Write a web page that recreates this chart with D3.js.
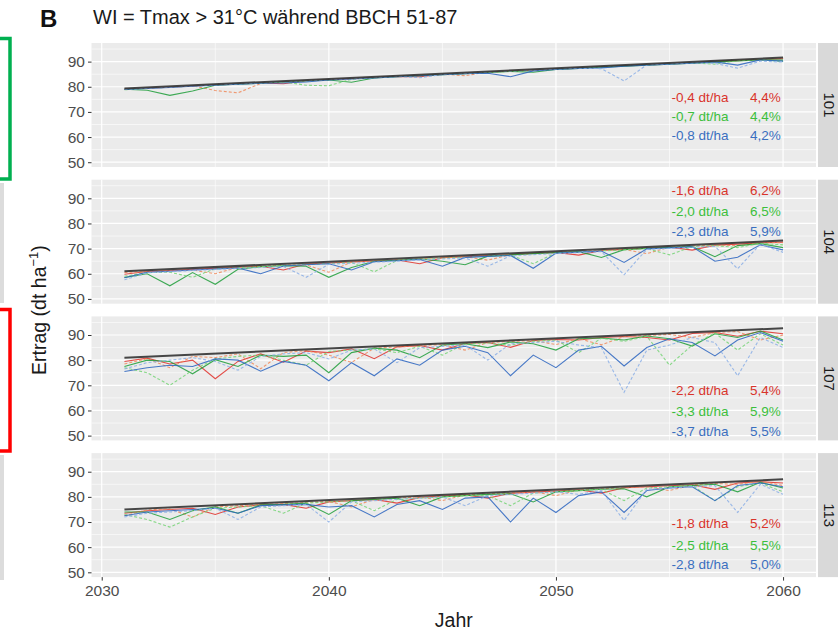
<!DOCTYPE html>
<html>
<head>
<meta charset="utf-8">
<script src="https://cdn.jsdelivr.net/npm/d3@7"></script>
<style>
  body { margin: 0; background: #fff; }
  text { font-family: "Liberation Sans", Arial, sans-serif; }
</style>
</head>
<body>
<div id="plot"></div>
<script>
// ---- data ----
const years = [2031,2032,2033,2034,2035,2036,2037,2038,2039,2040,2041,2042,2043,2044,2045,
               2046,2047,2048,2049,2050,2051,2052,2053,2054,2055,2056,2057,2058,2059,2060];
const facets = ["101", "104", "107", "113"];
const xTicks = [2030, 2040, 2050, 2060];
const yTicks = [50, 60, 70, 80, 90];

// potential yield (black line), first and last year
const trendYears = [2031, 2060];
const trendStart = [79.3, 61.0, 81.0, 75.0];
const trendEnd = [91.6, 73.2, 92.7, 87.0];

// facet 101
const r101  = [79.0,79.4,79.8,80.3,80.7,81.1,81.5,81.2,82.4,82.8,83.2,83.6,84.1,84.0,84.9,85.3,85.8,86.2,86.6,87.0,87.4,87.9,88.3,88.7,89.1,89.5,90.0,90.4,90.8,91.2];
const rd101 = [79.1,79.5,79.9,80.4,78.5,77.6,81.3,82.0,82.5,82.9,83.3,83.7,84.2,84.6,85.0,84.4,85.9,86.3,86.7,87.1,87.5,88.0,88.4,88.8,89.2,89.6,90.1,90.5,90.9,91.3];
const g101  = [79.0,78.6,76.6,78.3,80.6,81.0,81.4,81.9,82.3,82.7,81.8,83.5,84.0,84.4,84.8,85.2,85.7,86.1,85.8,86.9,87.3,87.8,88.2,88.6,89.0,89.4,89.9,90.3,90.7,90.6];
const gd101 = [78.8,79.4,79.8,80.3,80.7,81.1,81.5,82.0,80.6,80.4,83.0,83.6,84.1,84.5,84.9,85.3,85.5,86.2,86.6,87.0,87.4,87.9,88.3,88.7,89.1,89.5,89.0,90.4,90.8,90.0];
const b101  = [78.9,79.3,79.7,80.2,80.6,81.0,81.4,81.5,81.9,82.7,83.1,83.5,84.0,84.4,84.8,85.2,85.4,84.0,86.3,86.9,87.3,87.5,88.2,88.6,89.0,89.4,89.9,88.6,90.7,90.2];
const bd101 = [79.0,79.4,79.8,80.3,80.7,81.1,81.5,82.0,82.4,82.8,83.2,83.6,84.1,83.6,84.9,85.3,85.8,86.2,86.6,87.0,87.4,87.2,82.3,88.7,89.1,89.5,89.3,87.4,90.2,89.8];

// facet 104
const r104  = [59.8,60.9,61.3,61.8,62.2,62.6,63.0,61.5,63.9,64.3,64.7,65.1,65.5,64.0,66.4,66.8,67.2,67.6,68.1,68.5,67.4,69.3,69.7,70.2,70.6,69.4,71.4,71.8,72.3,72.6];
const rd104 = [60.5,60.9,61.3,61.5,60.0,62.6,63.0,63.4,63.5,60.6,64.7,65.1,65.5,66.0,66.4,66.8,65.4,67.6,68.1,68.5,68.9,69.3,69.7,68.0,70.6,71.0,71.4,71.2,72.3,72.4];
const g104  = [58.5,60.0,55.2,60.5,55.8,61.8,62.8,63.2,63.0,58.6,62.5,65.0,65.4,65.9,65.0,63.6,67.0,67.5,68.0,68.4,68.8,66.5,69.6,70.1,70.5,70.8,66.8,71.2,72.0,70.4];
const gd104 = [59.0,60.5,60.6,58.6,62.0,62.4,62.8,63.2,63.7,64.1,64.5,60.8,65.3,65.8,66.2,66.6,67.0,67.4,64.0,68.3,68.7,69.1,69.5,70.0,67.5,70.8,71.2,70.4,72.1,71.5];
const b104  = [58.4,60.6,61.0,61.5,61.9,62.3,60.0,63.1,63.6,64.0,61.5,64.8,65.2,65.7,63.0,66.5,66.9,67.3,62.2,68.2,68.6,69.0,64.5,69.9,70.3,70.7,65.0,66.6,71.5,69.5];
const bd104 = [57.6,60.4,60.8,61.3,61.7,62.1,62.5,62.9,58.6,63.8,64.2,64.6,65.0,65.5,65.9,66.3,63.0,67.1,67.6,68.0,68.4,68.8,59.6,69.7,70.1,70.5,70.9,62.0,71.8,68.5];

// facet 107
const r107  = [79.5,80.8,78.5,80.0,72.6,79.5,82.5,79.2,83.6,83.0,84.5,80.6,85.3,85.8,84.0,86.6,87.0,85.1,87.8,88.2,88.0,89.0,89.4,89.0,88.0,90.6,91.0,89.5,91.5,90.5];
const rd107 = [78.5,80.6,77.0,81.5,81.0,82.5,76.6,83.0,83.8,82.0,79.1,84.8,85.2,85.8,86.2,84.0,87.0,87.4,87.8,86.2,88.6,86.1,89.4,89.8,90.2,89.0,91.0,91.4,88.0,90.0];
const g107  = [77.5,80.0,79.5,74.6,80.2,77.5,82.0,81.5,82.0,75.0,83.0,84.8,84.0,81.0,86.0,86.5,85.0,87.2,86.5,84.0,88.5,88.8,88.0,89.6,88.5,85.6,90.5,89.0,91.6,88.0];
const gd107 = [77.0,75.0,70.0,76.0,80.5,81.5,82.0,80.0,78.0,83.5,84.0,84.5,83.0,85.5,82.0,86.5,86.8,86.0,87.5,88.0,83.0,88.7,87.5,89.5,78.0,86.0,90.8,84.0,90.5,86.0];
const b107  = [75.5,77.0,78.0,77.5,80.5,80.0,75.6,79.5,78.0,71.8,79.0,73.8,80.5,78.0,84.0,85.5,83.0,73.8,82.0,77.0,84.0,85.5,77.7,85.0,88.5,87.0,81.7,88.0,91.0,87.5];
const bd107 = [76.5,79.0,80.0,81.0,79.5,76.0,81.5,82.5,83.0,80.5,84.0,84.5,79.0,85.0,85.5,86.0,80.0,86.5,87.0,87.5,86.0,85.0,67.2,84.0,86.0,89.0,87.0,73.8,89.0,85.0];

// facet 113
const r113  = [73.5,74.5,75.0,75.5,73.0,76.0,76.8,77.0,75.5,78.0,78.5,79.0,77.5,79.8,80.3,80.8,79.5,81.4,81.9,82.3,82.8,81.5,83.6,84.0,84.4,84.8,83.0,85.5,86.0,85.5];
const rd113 = [72.5,74.8,75.2,72.0,76.0,76.5,77.0,77.3,77.8,78.2,76.0,79.0,79.5,80.0,78.5,80.8,81.2,81.6,82.0,80.5,82.8,83.2,83.6,84.0,82.5,84.8,85.3,85.0,86.2,84.5];
const g113  = [74.0,74.0,71.0,74.5,76.0,73.5,76.8,77.0,77.5,73.0,78.5,79.0,79.5,76.5,80.0,80.5,81.0,81.2,78.0,82.0,82.5,83.0,83.2,80.0,84.0,84.5,85.0,82.0,85.8,83.5];
const gd113 = [73.0,71.0,68.0,72.0,75.5,76.0,76.5,73.5,77.5,78.0,78.5,74.5,79.0,79.5,80.0,80.5,80.5,76.5,81.5,82.0,82.5,83.0,78.5,83.5,84.0,84.5,78.5,84.0,85.5,82.0];
const b113  = [72.5,74.0,74.5,75.0,75.5,73.5,76.5,76.8,77.0,76.0,76.5,72.0,77.0,78.5,75.0,79.5,80.0,70.0,79.5,73.8,80.5,82.0,73.8,82.5,83.5,84.0,78.5,84.5,85.5,84.0];
const bd113 = [72.0,73.5,74.0,74.5,75.5,71.0,76.0,76.5,77.0,70.0,78.0,78.5,79.0,79.5,80.0,76.5,80.5,81.0,81.5,82.0,81.0,82.5,70.6,83.0,83.5,84.0,84.5,73.8,85.0,81.0];

// yield losses printed in each facet (red, green, blue rows)
const dt101 = ["-0,4 dt/ha", "-0,7 dt/ha", "-0,8 dt/ha"];
const pc101 = ["4,4%", "4,4%", "4,2%"];
const dt104 = ["-1,6 dt/ha", "-2,0 dt/ha", "-2,3 dt/ha"];
const pc104 = ["6,2%", "6,5%", "5,9%"];
const dt107 = ["-2,2 dt/ha", "-3,3 dt/ha", "-3,7 dt/ha"];
const pc107 = ["5,4%", "5,9%", "5,5%"];
const dt113 = ["-1,8 dt/ha", "-2,5 dt/ha", "-2,8 dt/ha"];
const pc113 = ["5,2%", "5,5%", "5,0%"];

// ---- tables built from the arrays ----
const seriesStyle = [
    {color: "#e0302a", dash: null},
    {color: "#f08a5a", dash: "3,2"},
    {color: "#1f9e3a", dash: null},
    {color: "#74d474", dash: "3,2"},
    {color: "#2a64c0", dash: null},
    {color: "#8aaee6", dash: "3,2"}
];
const facetSeries = [
    [r101, rd101, g101, gd101, b101, bd101],
    [r104, rd104, g104, gd104, b104, bd104],
    [r107, rd107, g107, gd107, b107, bd107],
    [r113, rd113, g113, gd113, b113, bd113]
];
const facetDt = [dt101, dt104, dt107, dt113];
const facetPc = [pc101, pc104, pc107, pc113];
const labelColors = ["#d9342b", "#3cbf3c", "#3a6fc0"];

// label rows (in y units) per facet
const labelRows = [[76, 68.4, 60.9], [93.3, 85, 77], [67.9, 59.5, 51.6], [69.4, 60.7, 53.1]];

// ---- layout ----
const W = 838, H = 630;
const panelLeft = 91.5, panelRight = 816;
const panelTop0 = 43, panelH = 124, panelStep = 136.7;

const svg = d3.select("#plot")
    .append("svg")
    .attr("width", W)
    .attr("height", H);

// bits of the neighbouring figure at the left edge
svg.append("rect").attr("x", 0).attr("y", 183).attr("width", 4).attr("height", 120).attr("fill", "#dcdcdc");
svg.append("rect").attr("x", 0).attr("y", 455).attr("width", 4).attr("height", 125).attr("fill", "#dcdcdc");
svg.append("path").attr("d", "M-2,38.5 H10 V179 H-2").attr("fill", "none").attr("stroke", "#00b050").attr("stroke-width", 3.5);
svg.append("path").attr("d", "M-2,309.5 H10 V451 H-2").attr("fill", "none").attr("stroke", "#ff0000").attr("stroke-width", 3.5);

const x = d3.scaleLinear()
    .domain([2029.55, 2061.45])
    .range([panelLeft, panelRight]);

const y = d3.scaleLinear()
    .domain([48.1, 97.4])
    .range([panelH, 0]);

const line = d3.line()
    .x((d, i) => x(years[i]))
    .y(d => y(d));

facets.forEach((facet, fi) => {
    const g = svg.append("g")
        .attr("transform", `translate(0,${panelTop0 + fi * panelStep})`);

    // panel background
    g.append("rect")
        .attr("x", panelLeft)
        .attr("y", 0)
        .attr("width", panelRight - panelLeft)
        .attr("height", panelH)
        .attr("fill", "#ebebeb");

    // minor grid
    [55, 65, 75, 85, 95].forEach(v => {
        g.append("line").attr("x1", panelLeft).attr("x2", panelRight)
            .attr("y1", y(v)).attr("y2", y(v))
            .attr("stroke", "#fff").attr("stroke-width", 0.6);
    });
    [2035, 2045, 2055].forEach(v => {
        g.append("line").attr("x1", x(v)).attr("x2", x(v))
            .attr("y1", 0).attr("y2", panelH)
            .attr("stroke", "#fff").attr("stroke-width", 0.6);
    });
    // major grid
    yTicks.forEach(v => {
        g.append("line").attr("x1", panelLeft).attr("x2", panelRight)
            .attr("y1", y(v)).attr("y2", y(v))
            .attr("stroke", "#fff").attr("stroke-width", 1.2);
    });
    xTicks.forEach(v => {
        g.append("line").attr("x1", x(v)).attr("x2", x(v))
            .attr("y1", 0).attr("y2", panelH)
            .attr("stroke", "#fff").attr("stroke-width", 1.2);
    });

    // strip on the right
    g.append("rect")
        .attr("x", 818)
        .attr("y", 0)
        .attr("width", 26)
        .attr("height", panelH)
        .attr("fill", "#d9d9d9");
    g.append("text")
        .attr("transform", `translate(829,${panelH / 2}) rotate(90)`)
        .attr("text-anchor", "middle")
        .attr("dy", "0.35em")
        .attr("font-size", 15)
        .attr("fill", "#1a1a1a")
        .text(facet);

    // y axis
    const yAxis = g.append("g")
        .attr("transform", `translate(${panelLeft},0)`)
        .call(d3.axisLeft(y).tickValues(yTicks).tickSize(3.5).tickPadding(3));
    yAxis.select(".domain").remove();
    yAxis.selectAll("line").attr("stroke", "#333");
    yAxis.selectAll("text").attr("font-size", 15.5).attr("fill", "#4d4d4d")
        .attr("font-family", "Liberation Sans, Arial, sans-serif");

    // model lines
    facetSeries[fi].forEach((vals, si) => {
        g.append("path")
            .datum(vals)
            .attr("fill", "none")
            .attr("stroke", seriesStyle[si].color)
            .attr("stroke-width", 1.1)
            .attr("stroke-dasharray", seriesStyle[si].dash)
            .attr("opacity", 0.85)
            .attr("d", line);
    });

    // potential yield
    g.append("path")
        .datum([trendStart[fi], trendEnd[fi]])
        .attr("fill", "none")
        .attr("stroke", "#333")
        .attr("stroke-width", 2)
        .attr("opacity", 0.9)
        .attr("d", d3.line().x((d, i) => x(trendYears[i])).y(d => y(d)));

    // loss labels
    labelRows[fi].forEach((v, ri) => {
        g.append("text")
            .attr("x", x(2057.6))
            .attr("y", y(v))
            .attr("dy", "0.35em")
            .attr("text-anchor", "end")
            .attr("font-family", "Open Sans, sans-serif")
            .attr("font-size", 13.5)
            .attr("fill", labelColors[ri])
            .text(facetDt[fi][ri]);
        g.append("text")
            .attr("x", x(2059.9))
            .attr("y", y(v))
            .attr("dy", "0.35em")
            .attr("text-anchor", "end")
            .attr("font-family", "Open Sans, sans-serif")
            .attr("font-size", 13.5)
            .attr("fill", labelColors[ri])
            .text(facetPc[fi][ri]);
    });

    // x axis only under the last facet
    if (fi === facets.length - 1) {
        const xAxis = g.append("g")
            .attr("transform", `translate(0,${panelH})`)
            .call(d3.axisBottom(x).tickValues(xTicks).tickFormat(d3.format("d")).tickSize(3.5).tickPadding(4));
        xAxis.select(".domain").remove();
        xAxis.selectAll("line").attr("stroke", "#333");
        xAxis.selectAll("text").attr("font-size", 15.5).attr("fill", "#4d4d4d")
            .attr("font-family", "Liberation Sans, Arial, sans-serif");
    }
});

// titles
svg.append("text")
    .attr("x", 40).attr("y", 27)
    .attr("font-size", 24).attr("font-weight", "bold").attr("fill", "#111")
    .text("B");
svg.append("text")
    .attr("x", 93).attr("y", 24)
    .attr("font-size", 20).attr("fill", "#1a1a1a")
    .text("WI = Tmax > 31°C während BBCH 51-87");

svg.append("text")
    .attr("x", (panelLeft + panelRight) / 2)
    .attr("y", 627)
    .attr("text-anchor", "middle")
    .attr("font-size", 19.5).attr("fill", "#1a1a1a")
    .text("Jahr");

const yTitle = svg.append("text")
    .attr("transform", `translate(46,${panelTop0 + (3 * panelStep + panelH) / 2}) rotate(-90)`)
    .attr("text-anchor", "middle")
    .attr("font-size", 19.5).attr("fill", "#1a1a1a");
yTitle.append("tspan").text("Ertrag (dt ha");
yTitle.append("tspan").attr("font-size", 13).attr("dy", -8).text("\u22121");
yTitle.append("tspan").attr("dy", 8).text(")");
</script>
</body>
</html>
